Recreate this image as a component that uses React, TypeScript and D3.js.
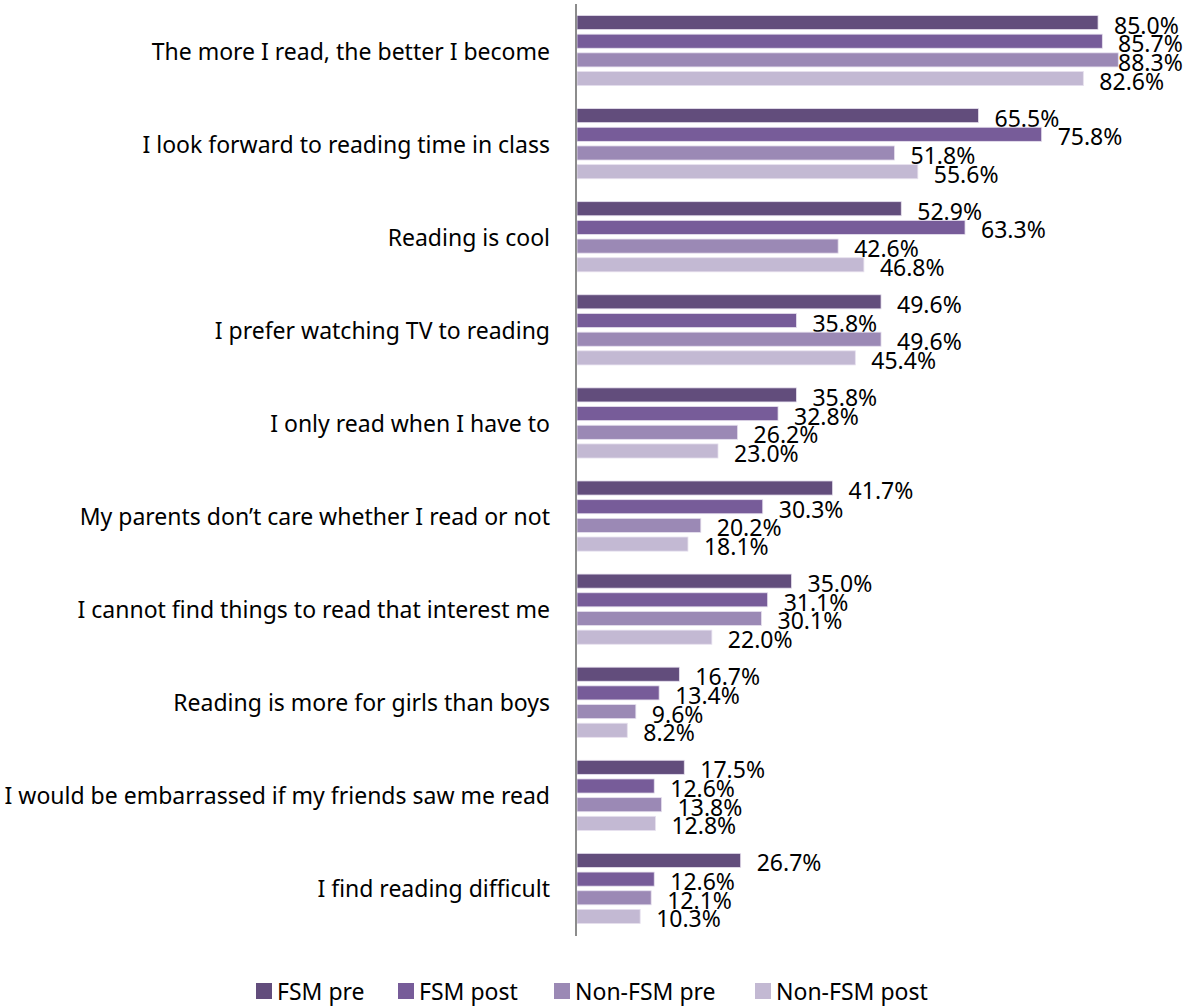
import React, { useEffect } from "react";
import * as d3 from "d3";

const categories = [
  "The more I read, the better I become",
  "I look forward to reading time in class",
  "Reading is cool",
  "I prefer watching TV to reading",
  "I only read when I have to",
  "My parents don\u2019t care whether I read or not",
  "I cannot find things to read that interest me",
  "Reading is more for girls than boys",
  "I would be embarrassed if my friends saw me read",
  "I find reading difficult",
];

const seriesNames = ["FSM pre", "FSM post", "Non-FSM pre", "Non-FSM post"];

const fsmPre = [85.0, 65.5, 52.9, 49.6, 35.8, 41.7, 35.0, 16.7, 17.5, 26.7];
const fsmPost = [85.7, 75.8, 63.3, 35.8, 32.8, 30.3, 31.1, 13.4, 12.6, 12.6];
const nonFsmPre = [88.3, 51.8, 42.6, 49.6, 26.2, 20.2, 30.1, 9.6, 13.8, 12.1];
const nonFsmPost = [82.6, 55.6, 46.8, 45.4, 23.0, 18.1, 22.0, 8.2, 12.8, 10.3];

const seriesValues = [fsmPre, fsmPost, nonFsmPre, nonFsmPost];
const colors = ["#624D7C", "#775C99", "#9B89B5", "#C3B9D3"];

const W = 1186;
const H = 1006;
const FONT = "'Noto Sans', 'Open Sans', sans-serif";
const FS = 23;

export default function App() {
  useEffect(() => {
    document.body.style.margin = "0";
  }, []);

  const x = d3.scaleLinear().domain([0, 100]).range([577, 1190]);
  const y = d3
    .scaleBand<string>()
    .domain(categories)
    .range([4, 935])
    .paddingInner(0.197)
    .paddingOuter(0.0985);
  const sub = d3
    .scaleBand<string>()
    .domain(seriesNames)
    .range([0, y.bandwidth()]);
  const slot = sub.bandwidth();
  const inset = 2.3;

  const legendX = [256, 398, 554, 755];

  return (
    <svg width={W} height={H} style={{ display: "block" }} fontFamily={FONT}>
      <rect x={0} y={0} width={W} height={H} fill="#fff" />
      {categories.map((c, ci) => {
        const y0 = y(c)!;
        return (
          <g key={c}>
            <text
              x={550}
              y={y0 + y.bandwidth() / 2}
              textAnchor="end"
              dominantBaseline="central"
              fontSize={FS}
              fill="#000"
            >
              {c}
            </text>
            {seriesNames.map((s, si) => {
              const v = seriesValues[si][ci];
              const sy = y0 + sub(s)!;
              return (
                <g key={s}>
                  <rect
                    x={x(0)}
                    y={sy + inset}
                    width={x(v) - x(0)}
                    height={slot - inset * 2}
                    fill={colors[si]}
                    stroke="#E6E0EE"
                    strokeWidth={0.8}
                  />
                  <text
                    x={Math.min(x(v) + 16, 1118)}
                    y={sy + slot / 2 + 2}
                    dominantBaseline="central"
                    fontSize={FS}
                    fill="#000"
                  >
                    {v.toFixed(1) + "%"}
                  </text>
                </g>
              );
            })}
          </g>
        );
      })}
      <line x1={576} x2={576} y1={4} y2={936} stroke="#8C8C8C" strokeWidth={2} />
      {seriesNames.map((s, si) => (
        <g key={s} transform={`translate(${legendX[si]},991)`}>
          <rect x={0} y={-8} width={16} height={16} fill={colors[si]} />
          <text x={21} y={0} dominantBaseline="central" fontSize={FS} fill="#000">
            {s}
          </text>
        </g>
      ))}
    </svg>
  );
}
